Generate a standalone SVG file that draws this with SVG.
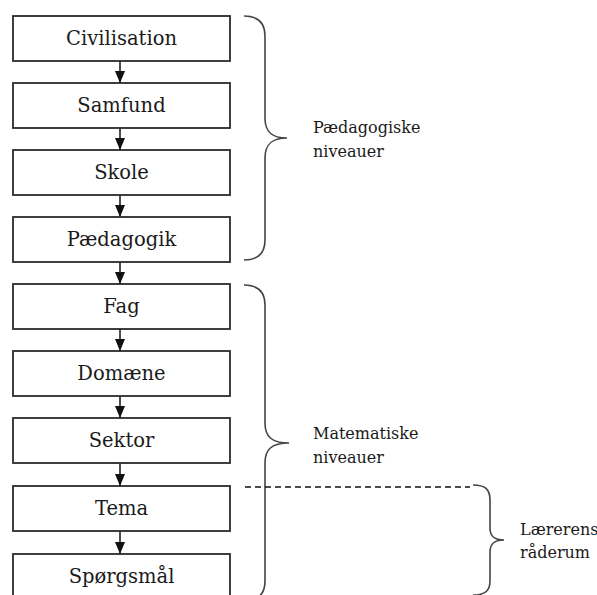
<svg xmlns="http://www.w3.org/2000/svg" width="597" height="595" viewBox="0 0 597 595">
<style>
.box{fill:#fff;stroke:#2b2b2b;stroke-width:1.8}
.lbl{font-family:"DejaVu Serif","Liberation Serif",serif;font-size:19.5px;fill:#1a1a1a;text-anchor:middle}
.side{font-family:"DejaVu Serif","Liberation Serif",serif;font-size:16px;fill:#1a1a1a}
.conn{stroke:#111;stroke-width:1.5;fill:none}
.brace{stroke:#444;stroke-width:1.6;fill:none}
</style>
<defs>
<marker id="ah" markerUnits="userSpaceOnUse" markerWidth="12" markerHeight="10" refX="12" refY="5" orient="auto" viewBox="0 0 12 10">
<path d="M0,0 L12,5 L0,10 Z" fill="#111"/>
</marker>
</defs>
<rect width="597" height="595" fill="#fff"/>
<g id="connectors">
<path class="conn" d="M120,61 V83" marker-end="url(#ah)"/>
<path class="conn" d="M120,128 V150" marker-end="url(#ah)"/>
<path class="conn" d="M120,195 V217" marker-end="url(#ah)"/>
<path class="conn" d="M120,262 V284" marker-end="url(#ah)"/>
<path class="conn" d="M120,329 V351" marker-end="url(#ah)"/>
<path class="conn" d="M120,396 V418" marker-end="url(#ah)"/>
<path class="conn" d="M120,463 V486" marker-end="url(#ah)"/>
<path class="conn" d="M120,531 V554" marker-end="url(#ah)"/>
</g>
<g id="n1"><rect class="box" x="13" y="16" width="217" height="45"/><text class="lbl" x="121.5" y="45">Civilisation</text></g>
<g id="n2"><rect class="box" x="13" y="83" width="217" height="45"/><text class="lbl" x="121.5" y="112">Samfund</text></g>
<g id="n3"><rect class="box" x="13" y="150" width="217" height="45"/><text class="lbl" x="121.5" y="179">Skole</text></g>
<g id="n4"><rect class="box" x="13" y="217" width="217" height="45"/><text class="lbl" x="121.5" y="246">Pædagogik</text></g>
<g id="n5"><rect class="box" x="13" y="284" width="217" height="45"/><text class="lbl" x="121.5" y="313">Fag</text></g>
<g id="n6"><rect class="box" x="13" y="351" width="217" height="45"/><text class="lbl" x="121.5" y="380">Domæne</text></g>
<g id="n7"><rect class="box" x="13" y="418" width="217" height="45"/><text class="lbl" x="121.5" y="447">Sektor</text></g>
<g id="n8"><rect class="box" x="13" y="486" width="217" height="45"/><text class="lbl" x="121.5" y="515">Tema</text></g>
<g id="n9"><rect class="box" x="13" y="554" width="217" height="45"/><text class="lbl" x="121.5" y="583">Spørgsmål</text></g>
<g id="braces">
<path class="brace" d="M244,16 C258,16 265,22 265,36 L265,118 C265,132 272,138 287,138 C272,138 265,144 265,158 L265,240 C265,254 258,260 244,260"/>
<path class="brace" d="M244,285 C258,285 265,291 265,305 L265,423 C265,437 272,443 289,443 C272,443 265,449 265,463 L265,581 C265,595 258,601 244,601"/>
<path class="brace" d="M473,485 C485,485 490,489 490,500 L490,528 C490,537 495,540 504,540 C495,540 490,543 490,552 L490,581 C490,591 485,595 473,595"/>
<line x1="245" y1="487" x2="470" y2="487" stroke="#111" stroke-width="1.3" stroke-dasharray="6,4"/>
</g>
<g id="labels">
<text class="side" x="313" y="133">Pædagogiske</text>
<text class="side" x="313" y="157">niveauer</text>
<text class="side" x="313" y="439">Matematiske</text>
<text class="side" x="313" y="463">niveauer</text>
<text class="side" x="520" y="535">Lærerens</text>
<text class="side" x="520" y="558">råderum</text>
</g>
</svg>
